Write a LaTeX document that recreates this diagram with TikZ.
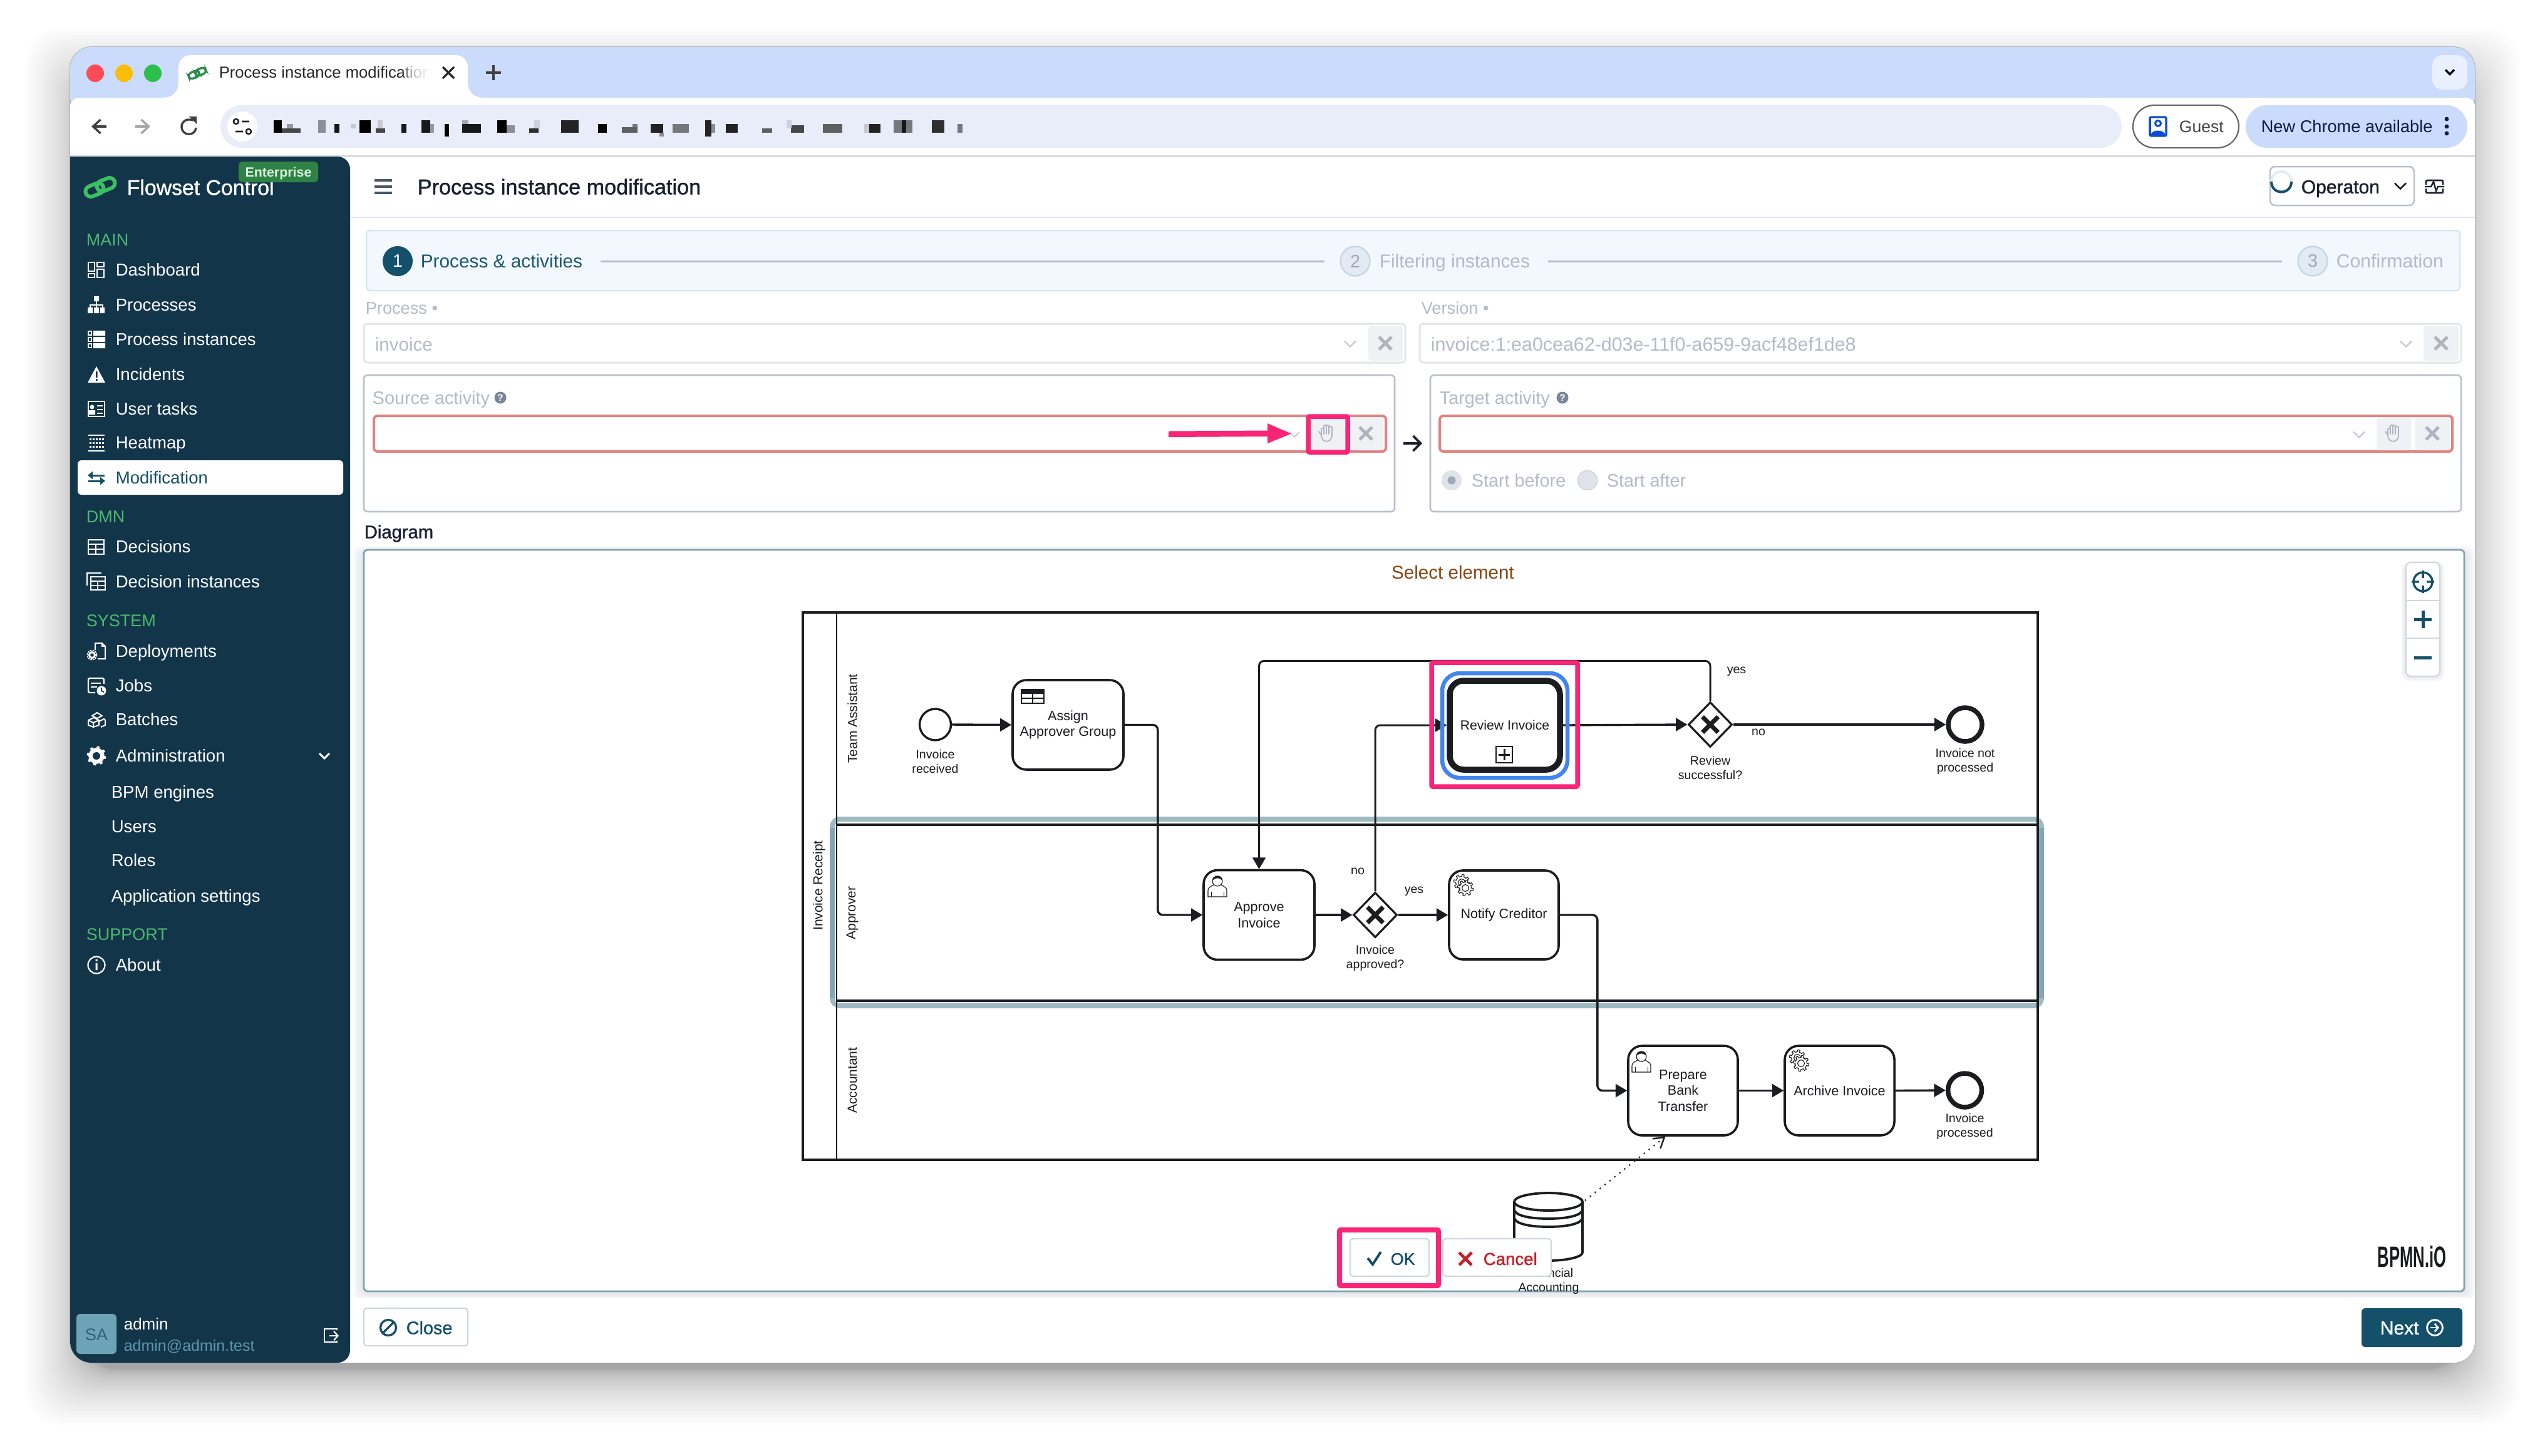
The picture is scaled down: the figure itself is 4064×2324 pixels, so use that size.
\documentclass[tikz,border=0pt]{standalone}
\usepackage{fontspec}
\usepackage{graphicx}
\setmainfont{Liberation Sans}
\newfontfamily\medf[FakeBold=1.2]{Liberation Sans}
\usetikzlibrary{arrows.meta,shapes.geometric,calc}
\def\pxu{0.25pt}
\definecolor{chromeb}{HTML}{CBDBFB}
\definecolor{addr}{HTML}{E9EDFA}
\definecolor{side}{HTML}{12354A}
\definecolor{sgreen}{HTML}{4CB96B}
\definecolor{teal1}{HTML}{14506A}
\definecolor{ink}{HTML}{1B1C20}
\definecolor{hotpink}{HTML}{FA2577}
\definecolor{selblue}{HTML}{4285F0}
\definecolor{lanehl}{HTML}{9DB9C2}
\definecolor{mutedt}{HTML}{B4BAC6}
\definecolor{btn}{HTML}{F0F1F5}
\definecolor{xgray}{HTML}{AEB4BF}
\definecolor{errred}{HTML}{E08280}
\definecolor{boxb}{HTML}{B9BFCE}
\definecolor{selb}{HTML}{E3E6EB}
\definecolor{darkt}{HTML}{1A2030}
\definecolor{cFF4B55}{HTML}{FF4B55}
\definecolor{cFABE0A}{HTML}{FABE0A}
\definecolor{c2DBF4B}{HTML}{2DBF4B}
\definecolor{c2D8C4A}{HTML}{2D8C4A}
\definecolor{cE9EFFC}{HTML}{E9EFFC}
\definecolor{c666666}{HTML}{666666}
\definecolor{c0B4CD6}{HTML}{0B4CD6}
\definecolor{c0E1A45}{HTML}{0E1A45}
\definecolor{cE2E8F0}{HTML}{E2E8F0}
\definecolor{c4A5568}{HTML}{4A5568}
\definecolor{cE4ECF0}{HTML}{E4ECF0}
\definecolor{c3CBF63}{HTML}{3CBF63}
\definecolor{c2F8246}{HTML}{2F8246}
\definecolor{cD8F3DC}{HTML}{D8F3DC}
\definecolor{c6CA3B6}{HTML}{6CA3B6}
\definecolor{c2D6079}{HTML}{2D6079}
\definecolor{c5F96A8}{HTML}{5F96A8}
\definecolor{cD8E6F2}{HTML}{D8E6F2}
\definecolor{cF3F8FF}{HTML}{F3F8FF}
\definecolor{c1B5871}{HTML}{1B5871}
\definecolor{cC6D6E4}{HTML}{C6D6E4}
\definecolor{cE2EBF4}{HTML}{E2EBF4}
\definecolor{cAEBBCB}{HTML}{AEBBCB}
\definecolor{c7A8698}{HTML}{7A8698}
\definecolor{cE0E4EA}{HTML}{E0E4EA}
\definecolor{cA0A9B8}{HTML}{A0A9B8}
\definecolor{cD0D4DA}{HTML}{D0D4DA}
\definecolor{c64748B}{HTML}{64748B}
\definecolor{c7CA3B3}{HTML}{7CA3B3}
\definecolor{c8A4510}{HTML}{8A4510}
\definecolor{cD1D7DF}{HTML}{D1D7DF}
\definecolor{c82A6B2}{HTML}{82A6B2}
\definecolor{cC81E28}{HTML}{C81E28}
\tikzset{
  x=0.25pt,y=-0.25pt,
  txt/.style={font=\fontsize{#1}{#1}\selectfont,text height=.82*#1pt,text depth=.1*#1pt,inner sep=0pt,anchor=west},
  ctxt/.style={font=\fontsize{#1}{#1}\selectfont,text height=.82*#1pt,text depth=.1*#1pt,inner sep=0pt,anchor=center},
  blbl/.style={font=\fontsize{4.9}{5.75}\selectfont,align=center,inner sep=0pt,text=ink},
  lane/.style={font=\fontsize{5.25}{6}\selectfont,rotate=90,inner sep=0pt,text=ink},
  task/.style 2 args={draw=ink,fill=white,line width=3.6*\pxu,rounded corners=5.5pt,minimum width=#1*\pxu,minimum height=#2*\pxu,inner sep=0pt,align=center,font=\fontsize{5.4}{6.4}\selectfont,text=ink},
  gate/.style={diamond,draw=ink,fill=white,line width=3.2*\pxu,minimum width=70*\pxu,minimum height=72*\pxu,inner sep=0pt,aspect=1},
  startev/.style={circle,draw=ink,fill=white,line width=3.4*\pxu,minimum size=50*\pxu,inner sep=0pt},
  endev/.style={circle,draw=ink,fill=white,line width=7.5*\pxu,minimum size=54*\pxu,inner sep=0pt},
  flow/.style={draw=ink,line width=3.4*\pxu,rounded corners=2pt,-{Triangle[length=4.6pt,width=5.2pt]}},
}
\newcommand\xmk[5]{\draw[#4,line width=#5*\pxu,line cap=butt] (#1-#3,#2-#3) -- (#1+#3,#2+#3) (#1+#3,#2-#3) -- (#1-#3,#2+#3);}
\newcommand\chev[5]{\draw[#4,line width=#5*\pxu,line join=miter] (#1-#3,#2-#3/2) -- (#1,#2+#3/2) -- (#1+#3,#2-#3/2);}
\newcommand\handicon[2]{%
  \draw[xgray,line width=1.8*\pxu,line cap=round,line join=round]
    (#1-9,#2+3) -- (#1-13,#2-3) (#1-9,#2+3) -- (#1-9,#2-6) (#1-9,#2-6) .. controls (#1-9,#2-9) and (#1-5,#2-9) .. (#1-5,#2-6)
    (#1-5,#2+1) -- (#1-5,#2-11) .. controls (#1-5,#2-14) and (#1-1,#2-14) .. (#1-1,#2-11) -- (#1-1,#2+1)
    (#1-1,#2-11) .. controls (#1-1,#2-14) and (#1+3,#2-14) .. (#1+3,#2-11) -- (#1+3,#2+1)
    (#1+3,#2-9) .. controls (#1+3,#2-12) and (#1+8,#2-12) .. (#1+8,#2-9) -- (#1+8,#2+3)
    .. controls (#1+8,#2+16) and (#1-9,#2+16) .. (#1-9,#2+3);}
\newcommand\logo[4]{%
  \begin{scope}[shift={(#1,#2)},scale=#3,rotate=22]
    \draw[#4,line width=#3*1.5pt,rounded corners=#3*2.2pt] (-25,-8) rectangle (5,9);
    \draw[#4,line width=#3*1.5pt,rounded corners=#3*2.2pt] (-5,-9) rectangle (25,8);
  \end{scope}}
\newcommand\gearout[4]{\draw[ink,line width=1.1*\pxu,fill=#4] plot[domain=0:360,samples=97,variable=\t]
   ({#1+#3*(1+((sin(8*\t)>0)*0.3-0.15))*cos(\t)},{#2+#3*(1+((sin(8*\t)>0)*0.3-0.15))*sin(\t)}) -- cycle;
   \draw[ink,line width=1.1*\pxu,fill=white] (#1,#2) circle[radius=#3*.5];}
\newcommand\gearicon[2]{\gearout{#1-3}{#2-4}{11}{white}\gearout{#1+3}{#2+5}{11}{white}}
\newcommand\usericon[2]{%
  \draw[ink,line width=1.1*\pxu,fill=white] (#1-15,#2+35) -- (#1-15,#2+25) .. controls (#1-15,#2+18) and (#1-6,#2+18) .. (#1-5,#2+14) -- (#1+5,#2+14) .. controls (#1+6,#2+18) and (#1+15,#2+18) .. (#1+15,#2+25) -- (#1+15,#2+35) -- cycle;
  \draw[ink,line width=1.1*\pxu,fill=white] (#1,#2+10) circle[radius=8];
  \fill[ink] (#1-8,#2+9) .. controls (#1-8,#2-1) and (#1+8,#2-1) .. (#1+8,#2+9) .. controls (#1+3,#2+4) and (#1-3,#2+4) .. (#1-8,#2+9) -- cycle;
  \draw[ink,line width=1*\pxu] (#1-10,#2+35) -- (#1-10,#2+27) (#1+10,#2+35) -- (#1+10,#2+27);}
\begin{document}
\begin{tikzpicture}
\useasboundingbox (0,0) rectangle (4064,2324);
\fill[white] (0,0) rectangle (4064,2324);
% window shadow
\foreach \i in {1,...,30}{
  \fill[black,opacity=.012,rounded corners=14pt] ({132-\i*\i/10},{135-\i*\i/10}) rectangle ({3932+\i*\i/10},{2186+\i*\i/10});
}
% window
\draw[black!40,line width=1.2*\pxu,fill=chromeb,rounded corners=8.5pt] (112,75) rectangle (3952,2176);
\begin{scope}
\clip[rounded corners=8.5pt] (112,75) rectangle (3952,2176);
\fill[chromeb] (112,75) rectangle (3952,160);
\fill[white,rounded corners=3.5pt] (112,156) rectangle (3952,400);
\fill[white] (112,250) rectangle (3952,2176);
\fill[white] (259,156) .. controls (275,156) and (285,148) .. (285,130) -- (285,108) .. controls (285,96) and (293,88) .. (305,88) -- (727,88) .. controls (739,88) and (747,96) .. (747,108) -- (747,130) .. controls (747,148) and (757,156) .. (773,156) -- cycle;
\draw[black!14,line width=3*\pxu] (112,249) -- (3952,249);
\fill[side,rounded corners=5pt] (90,250) rectangle (559,2176);
\end{scope}
% traffic lights
\fill[cFF4B55] (152,117) circle[radius=14];
\fill[cFABE0A] (198,117) circle[radius=14];
\fill[c2DBF4B] (244,117) circle[radius=14];
% tab
\logo{315}{117}{.58}{c2D8C4A}
\node[txt=6.4,text=black!85] (tabtitle) at (349,115) {Process instance modification};
\fill[white] (684,90) rectangle (700,140);
\foreach \i in {0,...,9}{\fill[white,opacity=.22] ({644+\i*4},95) rectangle (684,140);}
\xmk{716}{116}{9}{black!85}{3.2}
\draw[black!75,line width=3.2*\pxu] (788,104) -- (788,128) (776,116) -- (800,116);
\fill[cE9EFFC,rounded corners=4pt] (3884,88) rectangle (3940,143);
\chev{3912}{115}{7}{black}{3.4}
% toolbar
\draw[black!75,line width=3.4*\pxu,-{Straight Barb[length=3pt,width=5.5pt]}] (170,202) -- (146,202);
\draw[black!35,line width=3.4*\pxu,-{Straight Barb[length=3pt,width=5.5pt]}] (216,202) -- (240,202);
\draw[black!75,line width=3.4*\pxu] (308,192) .. controls (296,188) and (290,196) .. (290,202) .. controls (290,218) and (312,218) .. (313,204);
\fill[black!75] (302,186) -- (314,186) -- (314,198) -- cycle;
\fill[addr,rounded corners=34*\pxu] (352,168) rectangle (3388,236);
\fill[white] (387,202) circle[radius=24];
\draw[black!85,line width=2.6*\pxu] (377,194) circle[radius=4] (386,194) -- (398,194) (376,210) -- (388,210) (397,210) circle[radius=4];
\foreach \xa/\xb/\ya/\yb/\g in {437/450/192/212/100,450/480/205/212/70,458/468/198/205/35,508/520/192/212/40,534/542/198/212/90,560/568/198/205/15,574/592/192/212/100,600/615/205/212/70,603/611/192/205/15,641/649/198/212/90,673/687/192/212/90,687/693/198/212/35,710/717/198/218/100,738/768/198/212/90,738/748/192/198/30,794/809/192/212/100,809/822/200/212/40,845/860/205/212/80,853/862/192/205/12,896/924/192/212/85,955/969/198/212/100,993/1018/203/212/60,1010/1018/198/203/50,1039/1059/198/212/85,1053/1060/212/218/40,1074/1100/198/212/50,1126/1136/192/218/85,1136/1142/198/212/40,1159/1178/198/212/85,1217/1233/205/212/60,1263/1284/200/212/70,1256/1264/192/205/12,1314/1345/198/212/60,1388/1406/198/212/85,1380/1388/198/212/15,1427/1457/192/212/50,1440/1447/192/212/90,1488/1508/192/212/80,1529/1537/198/212/50}{
  \fill[black!\g!addr] (\xa,\ya) rectangle (\xb,\yb);
}
\draw[c666666,line width=2.2*\pxu,fill=white,rounded corners=34*\pxu] (3406,168) rectangle (3575,236);
\draw[c0B4CD6,line width=3.4*\pxu,rounded corners=.6pt] (3433,187) rectangle (3459,217);
\draw[c0B4CD6,line width=3*\pxu] (3446,197) circle[radius=4.5];
\fill[c0B4CD6] (3434,216) .. controls (3436,206) and (3456,206) .. (3458,216) -- cycle;
\node[txt=6.65,text=black!72] (guest) at (3479,202) {Guest};
\fill[chromeb,rounded corners=34*\pxu] (3586,168) rectangle (3940,236);
\node[txt=6.8,text=c0E1A45] (newchrome) at (3610,202) {New Chrome available};
\foreach \y in {190,202,213}{\fill[c0E1A45] (3907,\y) circle[radius=3.4];}
% header
\draw[cE2E8F0,line width=2.5*\pxu] (559,347) -- (3952,347);
\draw[c4A5568,line width=3.4*\pxu] (598,288) -- (626,288) (598,298) -- (626,298) (598,308) -- (626,308);
\node[txt=8.55,text=darkt] (pagetitle) at (666,298) {\medf Process instance modification};
\draw[boxb,line width=2.5*\pxu,rounded corners=2pt] (3625,266) rectangle (3855,328);
\draw[cE4ECF0,line width=4*\pxu] (3643,290) circle[radius=16];
\draw[teal1,line width=4*\pxu] (3627,290) .. controls (3627,312) and (3659,312) .. (3659,290);
\node[txt=7.5,text=darkt] (operaton) at (3674,298) {\medf Operaton};
\chev{3833}{297}{9}{darkt}{2.6}
\draw[darkt,line width=2.8*\pxu,rounded corners=.5pt] (3874,288) rectangle (3901,308);
\fill[white] (3870,295) rectangle (3905,301);
\draw[darkt,line width=2.4*\pxu] (3872,298) -- (3882,298) -- (3886,290) -- (3890,305) -- (3893,298) -- (3903,298);
% sidebar top
\logo{160}{299}{1}{c3CBF63}
\node[txt=8.45,text=white] (brand) at (202,299) {\medf Flowset Control};
\fill[c2F8246,rounded corners=1.6pt] (381,258) rectangle (508,291);
\node[ctxt=5.35,text=cD8F3DC] (enterprise) at (444.5,275) {\bfseries Enterprise};
% sidebar sections
\foreach \nm/\y/\t in {smain/383/MAIN,sdmn/825/DMN,ssystem/991/SYSTEM,ssupport/1492/SUPPORT}{
  \node[txt=6.75,text=sgreen] (\nm) at (137,\y) {\t};
}
\fill[white,rounded corners=1.5pt] (124,735) rectangle (548,790);
\foreach \nm/\y/\t in {idash/431/Dashboard,iproc/487/Processes,iinst/542/Process instances,iinc/598/Incidents,iuser/653/User tasks,iheat/707/Heatmap,idec/873/Decisions,idecin/929/Decision instances,idep/1040/Deployments,ijobs/1095/Jobs,ibatch/1149/Batches,iadmin/1207/Administration,iabout/1541/About}{
  \node[txt=6.9,text=white] (\nm) at (184,\y) {\t};
}
\node[txt=6.9,text=teal1] (imod) at (184,763) {Modification};
\foreach \nm/\y/\t in {ibpm/1265/BPM engines,iusers/1320/Users,iroles/1374/Roles,iapp/1431/Application settings}{
  \node[txt=6.9,text=white] (\nm) at (177,\y) {\t};
}
\chev{518}{1207}{8}{white}{3}
% sidebar icons
\draw[white,line width=2.2*\pxu] (141,419) rectangle (151,433) (155,419) rectangle (166,426) (141,437) rectangle (151,443) (155,430) rectangle (166,443);
\fill[white] (150,473) rectangle (158,481) (140,491) rectangle (148,500) (150,491) rectangle (158,500) (160,491) rectangle (167,500);
\draw[white,line width=2*\pxu] (154,481) -- (154,491) (144,491) -- (144,487) -- (164,487) -- (164,491);
\draw[white,line width=1.8*\pxu] (141,529) rectangle (146,535) (141,539) rectangle (146,545) (141,549) rectangle (146,555);
\fill[white] (149,528) rectangle (168,536) (149,538) rectangle (168,546) (149,548) rectangle (168,556);
\fill[white] (154,585) -- (168,611) -- (140,611) -- cycle;
\fill[side] (153,593) rectangle (155.5,603) (153,605) rectangle (155.5,608);
\draw[white,line width=2.2*\pxu] (141,641) rectangle (167,665);
\fill[white] (147,650) circle[radius=3.5] (142,662) rectangle (152,655);
\draw[white,line width=2*\pxu] (155,648) -- (164,648) (155,654) -- (164,654) (155,660) -- (164,660);
\draw[white,line width=2*\pxu] (141,695) -- (167,695) (141,720) -- (167,720);
\foreach \yy in {700,706,712}{\foreach \xx in {143,148,153,158,163}{\fill[white] (\xx,\yy) rectangle (\xx+2.5,\yy+3);}}
\draw[teal1,line width=3*\pxu,-{Triangle[length=2pt,width=3pt]}] (167,759) -- (140,759);
\draw[teal1,line width=3*\pxu,-{Triangle[length=2pt,width=3pt]}] (141,768) -- (168,768);
\draw[white,line width=2.4*\pxu] (141,862) rectangle (166,885) (141,869) -- (166,869) (141,877) -- (166,877) (153,869) -- (153,885);
\draw[white,line width=2.2*\pxu] (139,935) -- (139,915) -- (162,915) (145,921) rectangle (168,942) (145,928) -- (168,928) (145,935) -- (168,935) (156,928) -- (156,942);
\draw[white,line width=2*\pxu] (152,1038) -- (152,1027) -- (163,1027) -- (168,1032) -- (168,1052) -- (156,1052);
\draw[white,line width=2*\pxu] (163,1027) -- (163,1032) -- (168,1032);
\draw[white,line width=3*\pxu] (147,1046) circle[radius=4.5];
\draw[white,line width=2*\pxu,dash pattern=on .6pt off .4pt] (147,1046) circle[radius=7.5];
\draw[white,line width=2.4*\pxu,rounded corners=.6pt] (152,1106) -- (141,1106) -- (141,1083) -- (166,1083) -- (166,1092);
\draw[white,line width=2*\pxu] (145,1091) -- (161,1091) (145,1097) -- (155,1097);
\fill[white] (162,1103) circle[radius=7.5];
\draw[side,line width=1.8*\pxu] (162,1098) -- (162,1103) -- (166,1105);
\draw[white,line width=2*\pxu,line join=round] (141,1150) -- (150,1146) -- (158,1150) -- (158,1158) -- (149,1161) -- (141,1158) -- cycle (141,1150) -- (149,1154) -- (158,1150) (149,1154) -- (149,1161);
\draw[white,line width=2*\pxu,line join=round] (147,1143) -- (155,1138) -- (163,1143) -- (155,1147) -- cycle;
\draw[white,line width=2*\pxu,line join=round] (158,1152) -- (166,1148) -- (168,1150) -- (168,1158) -- (161,1161);
\fill[white] plot[domain=0:360,samples=97,variable=\t] ({154+14*(1+((sin(8*\t)>0)*0.2-0.1))*cos(\t)},{1207+14*(1+((sin(8*\t)>0)*0.2-0.1))*sin(\t)}) -- cycle;
\fill[side] (154,1207) circle[radius=6];
\draw[white,line width=2.2*\pxu] (154,1541) circle[radius=13.5];
\fill[white] (152.5,1538) rectangle (155.5,1549) (152.5,1532) rectangle (155.5,1535);
% admin
\fill[c6CA3B6,rounded corners=1.6pt] (122,2098) rectangle (186,2162);
\node[ctxt=6.7,text=c2D6079] (sa) at (154,2131) {SA};
\node[txt=6.5,text=white] (adminname) at (197,2114) {admin};
\node[txt=6.25,text=c5F96A8] (adminmail) at (197,2148) {admin@admin.test};
\draw[white,line width=2.2*\pxu] (538,2124) -- (538,2122) -- (518,2122) -- (518,2143) -- (538,2143) -- (538,2141);
\draw[white,line width=2.2*\pxu,-{Straight Barb[length=1.6pt,width=3.6pt]}] (526,2133) -- (541,2133);
% stepper
\draw[cD8E6F2,line width=2.5*\pxu,fill=cF3F8FF,rounded corners=1.5pt] (585,368) rectangle (3928,464);
\node[circle,fill=teal1,minimum size=48*\pxu,inner sep=0pt,text=white,font=\fontsize{7.2}{7.2}\selectfont] (st1) at (635,417) {1};
\node[txt=7.45,text=c1B5871] (st1t) at (671,417) {Process \& activities};
\node[circle,draw=cC6D6E4,fill=cE2EBF4,line width=2.4*\pxu,minimum size=47*\pxu,inner sep=0pt,text=mutedt!90!black,font=\fontsize{7.2}{7.2}\selectfont] (st2) at (2164,417) {2};
\node[txt=7.45,text=mutedt] (st2t) at (2202,417) {Filtering instances};
\node[circle,draw=cC6D6E4,fill=cE2EBF4,line width=2.4*\pxu,minimum size=47*\pxu,inner sep=0pt,text=mutedt!90!black,font=\fontsize{7.2}{7.2}\selectfont] (st3) at (3693,417) {3};
\node[txt=7.55,text=mutedt] (st3t) at (3730,417) {Confirmation};
\draw[cAEBBCB,line width=3*\pxu] ([xshift=7pt]st1t.east) -- ([xshift=-6pt]st2.west);
\draw[cAEBBCB,line width=3*\pxu] ([xshift=7pt]st2t.east) -- ([xshift=-6pt]st3.west);
% selects
\node[txt=6.8,text=mutedt] (lproc) at (583,492) {Process •};
\node[txt=6.8,text=mutedt] (lver) at (2269,492) {Version •};
\draw[selb,line width=3*\pxu,rounded corners=1.5pt] (581,517) rectangle (2244,579);
\node[txt=7.4,text=mutedt] (vproc) at (598,550) {invoice};
\chev{2156}{549}{9}{xgray!70}{2.4}
\fill[btn,rounded corners=1.2pt] (2185,520) rectangle (2240,576);
\xmk{2212}{548}{10}{xgray}{5}
\draw[selb,line width=3*\pxu,rounded corners=1.5pt] (2267,517) rectangle (3930,579);
\node[txt=7.6,text=mutedt] (vver) at (2284,550) {invoice:1:ea0cea62-d03e-11f0-a659-9acf48ef1de8};
\chev{3842}{549}{9}{xgray!70}{2.4}
\fill[btn,rounded corners=1.2pt] (3870,520) rectangle (3926,576);
\xmk{3898}{548}{10}{xgray}{5}
% source
\draw[boxb,line width=2.6*\pxu,rounded corners=1.5pt] (581,599) rectangle (2227,817);
\node[txt=7.2,text=mutedt] (lsrc) at (594,635) {Source activity};
\node[circle,fill=c7A8698,minimum size=19*\pxu,inner sep=0pt,text=white,font=\fontsize{3.8}{3.8}\selectfont\bfseries] (qsrc) at (799,635) {?};
\draw[errred,line width=4*\pxu,rounded corners=1.5pt] (597,664) rectangle (2213,721);
\fill[btn,rounded corners=1.2pt] (2156,666) rectangle (2209,719);
\xmk{2181}{692}{10}{xgray}{5}
\fill[btn] (2088,664) rectangle (2153,722);
\handicon{2119}{692}
\chev{2067}{694}{8}{xgray!60}{2.2}
\draw[hotpink,line width=7.5*\pxu,rounded corners=.5pt] (2089,665) rectangle (2152,722);
\fill[hotpink] (1866,688.5) -- (2024,687.5) -- (2024,676) -- (2062,692.5) -- (2024,708) -- (2024,697) -- (1866,698) -- cycle;
\draw[darkt,line width=3.6*\pxu,-{Straight Barb[length=3pt,width=6pt]}] (2241,708) -- (2271,708);
% target
\draw[boxb,line width=2.6*\pxu,rounded corners=1.5pt] (2284,599) rectangle (3930,817);
\node[txt=7.2,text=mutedt] (ltgt) at (2298,635) {Target activity};
\node[circle,fill=c7A8698,minimum size=19*\pxu,inner sep=0pt,text=white,font=\fontsize{3.8}{3.8}\selectfont\bfseries] (qtgt) at (2495,635) {?};
\draw[errred,line width=4*\pxu,rounded corners=1.5pt] (2299,664) rectangle (3916,721);
\fill[btn,rounded corners=1.2pt] (3795,666) rectangle (3850,719);
\fill[btn,rounded corners=1.2pt] (3857,666) rectangle (3912,719);
\handicon{3822}{692}
\xmk{3884}{692}{10}{xgray}{5}
\chev{3767}{694}{9}{xgray!70}{2.4}
\node[circle,fill=cE0E4EA,minimum size=32*\pxu,inner sep=0pt] (rb) at (2318,767) {};
\fill[cA0A9B8] (rb) circle[radius=6.5];
\node[txt=7.2,text=mutedt] (lstartb) at (2349,767) {Start before};
\node[circle,fill=cE0E4EA,draw=cD0D4DA,line width=1.5*\pxu,minimum size=31*\pxu,inner sep=0pt] (ra) at (2535,767) {};
\node[txt=7.2,text=mutedt] (lstarta) at (2565,767) {Start after};
\node[txt=7.3,text=darkt] (ldiag) at (581,849) {\medf Diagram};
% diagram box
\begin{scope}
\clip (560,855) rectangle (3952,2071);
\foreach \i in {1,...,7}{
  \fill[c64748B,opacity=.022,rounded corners=3pt] ({581-2.5*\i},{878-1.5*\i+4}) rectangle ({3935+2.5*\i},{2062+2.5*\i});
}
\end{scope}
\draw[c7CA3B3,line width=2.8*\pxu,fill=white,rounded corners=1.5pt] (581,878) rectangle (3935,2062);
\node[ctxt=7.4,text=c8A4510] (selel) at (2320,914) {Select element};
% zoom controls
\begin{scope}
\foreach \i in {1,...,5}{\fill[c64748B,opacity=.03,rounded corners=3pt] ({3842-1.5*\i},{898-\i+3}) rectangle ({3896+1.5*\i},{1080+1.6*\i});}
\end{scope}
\draw[cD1D7DF,line width=2.2*\pxu,fill=white,rounded corners=2pt] (3842,898) rectangle (3896,1080);
\draw[cD1D7DF,line width=2*\pxu] (3842,959) -- (3896,959) (3842,1019) -- (3896,1019);
\draw[teal1,line width=3.4*\pxu] (3869,929) circle[radius=15] (3869,911) -- (3869,923) (3869,935) -- (3869,947) (3851,929) -- (3863,929) (3875,929) -- (3887,929);
\draw[teal1,line width=5*\pxu] (3869,975) -- (3869,1003) (3855,989) -- (3883,989) (3855,1050) -- (3883,1050);
% lane highlight
\draw[lanehl,line width=8*\pxu,rounded corners=3pt] (1329,1308) rectangle (3260,1606);
\draw[c82A6B2,line width=8*\pxu] (1329,1322) -- (1329,1594);
\draw[c82A6B2,line width=8*\pxu] (3260,1322) -- (3260,1594);
% pool
\draw[ink,line width=3.2*\pxu] (1282,978) rectangle (3254,1852);
\draw[ink,line width=2.8*\pxu] (1336,978) -- (1336,1852);
\draw[ink,line width=4*\pxu] (1336,1317) -- (3254,1317) (1336,1598) -- (3254,1598);
\node[lane] (lpool) at (1308,1414) {Invoice Receipt};
\node[lane] (l1) at (1361,1147.5) {Team Assistant};
\node[lane] (l2) at (1361,1458) {Approver};
\node[lane] (l3) at (1361,1725) {Accountant};
% data store
\coordinate (storeport) at (2531,1917);
\draw[ink,line width=3.8*\pxu,fill=white] (2418,1919) -- (2418,2000) .. controls (2418,2007) and (2442,2013) .. (2472.5,2013) .. controls (2503,2013) and (2527,2007) .. (2527,2000) -- (2527,1919);
\node[ellipse,draw=ink,line width=3.8*\pxu,minimum width=109*\pxu,minimum height=28*\pxu,inner sep=0pt,fill=white] (store) at (2472.5,1919) {};
\draw[ink,line width=3.8*\pxu] (2418,1932) .. controls (2420,1941) and (2442,1946) .. (2472.5,1946) .. controls (2503,1946) and (2525,1941) .. (2527,1932);
\draw[ink,line width=3.8*\pxu] (2418,1945) .. controls (2420,1954) and (2442,1959) .. (2472.5,1959) .. controls (2503,1959) and (2525,1954) .. (2527,1945);
\node[blbl] (lstore) at (2473,2046) {Financial\\Accounting};
% tasks
\node[startev] (start) at (1493.5,1157) {};
\node[blbl] (lstart) at (1493.5,1215.5) {Invoice\\received};
\node[task={177}{143}] (assign) at (1705.5,1157.5) {Assign\\Approver Group};
\node[task={177}{143}] (approve) at (2010.5,1461) {Approve\\Invoice};
\node[gate] (g1) at (2196,1461) {};
\node[blbl] (lg1) at (2196,1530) {Invoice\\approved?};
\node[blbl] (no1) at (2168,1391) {no};
\node[blbl] (yes1) at (2258,1423) {yes};
\node[task={175}{142}] (notify) at (2401.5,1461) {Notify Creditor};
\node[task={176}{142},draw=ink,line width=9.5*\pxu] (review) at (2403,1158) {};
\node[font=\fontsize{5.3}{6}\selectfont,text=ink,inner sep=0pt] (lreview) at (review) {Review Invoice};
\node[gate] (g2) at (2731,1157) {};
\node[blbl] (lg2) at (2731,1226) {Review\\successful?};
\node[blbl] (yes2) at (2773,1072.5) {yes};
\node[blbl] (no2) at (2808,1169) {no};
\node[endev] (endno) at (3138,1157) {};
\node[blbl] (lendno) at (3138,1215.5) {Invoice not\\processed};
\node[task={175}{143}] (prepare) at (2687.5,1741.5) {Prepare\\Bank\\Transfer};
\node[task={175}{143}] (archive) at (2937.5,1741.5) {Archive Invoice};
\node[endev] (endok) at (3137.5,1741) {};
\node[blbl] (lendok) at (3137.5,1799) {Invoice\\processed};
% gateway marks
\xmk{2196}{1461}{12.5}{ink}{7}
\xmk{2731}{1157}{12.5}{ink}{7}
% flows
\draw[flow] (start.east) -- (assign.west);
\draw[flow] (assign.east) -- ++(53,0) |- (approve.west);
\draw[flow] (approve.east) -- (g1.west);
\draw[flow] (g1.east) -- (notify.west);
\draw[flow,line width=3*\pxu] (g1.north) |- (review.west);
\draw[flow] (review.east) -- (g2.west);
\draw[flow] (g2.east) -- (endno.west);
\draw[flow,line width=3*\pxu] (g2.north) -- ++(0,-64) -| (approve.north);
\draw[flow] (notify.east) -- ++(60,0) |- (prepare.west);
\draw[flow] (prepare.east) -- (archive.west);
\draw[flow] (archive.east) -- (endok.west);
\draw[ink,line width=2.4*\pxu,dash pattern=on .5pt off 2pt,-{Straight Barb[length=4pt,width=5pt]}] (storeport) -- (prepare.249.7);
% task markers
\gearicon{2337}{1413}
\gearicon{2873}{1693}
\usericon{1944}{1397}
\usericon{2621}{1677}
\draw[ink,line width=1.4*\pxu,fill=white] (1631,1101) rectangle (1667,1123);
\fill[ink] (1631,1101) rectangle (1667,1108);
\draw[ink,line width=1.2*\pxu] (1631,1115) -- (1667,1115) (1649,1108) -- (1649,1123);
\draw[ink,line width=1.6*\pxu] (2389,1192) rectangle (2415,1218);
\draw[ink,line width=3*\pxu] (2402,1196) -- (2402,1214) (2393,1205) -- (2411,1205);
% selection outlines
\draw[selblue,line width=6.5*\pxu,rounded corners=7pt] (2303,1075) rectangle (2503,1242);
\draw[hotpink,line width=7.5*\pxu,rounded corners=.5pt] (2286,1058) rectangle (2519,1256);
% popup buttons
\draw[hotpink,line width=8*\pxu,rounded corners=.5pt] (2139,1964) rectangle (2297,2053);
\draw[cD1D7DF,line width=2.4*\pxu,fill=white,rounded corners=1.2pt] (2156,1978) rectangle (2282,2038);
\draw[teal1,line width=4*\pxu] (2184,2009) -- (2192,2019) -- (2205,1999);
\node[txt=6.7,text=teal1] (okt) at (2220,2010) {\medf OK};
\draw[cD1D7DF,line width=2.4*\pxu,fill=white,rounded corners=1.2pt] (2304,1978) rectangle (2477,2038);
\xmk{2340}{2010}{10}{cC81E28}{4.6}
\node[txt=6.9,text=cC81E28] (cancelt) at (2368,2010) {\medf Cancel};
% bpmn.io
\node[inner sep=0pt,text=ink] (bpmnio) at (3851.5,2007) {\resizebox{27.5pt}{8.5pt}{\bfseries BPMN.iO}};
% footer buttons
\draw[cD1D7DF,line width=2.4*\pxu,fill=white,rounded corners=1.2pt] (581,2089) rectangle (747,2149);
\draw[teal1,line width=3.4*\pxu] (620,2120) circle[radius=12.5] (611,2129) -- (629,2111);
\node[txt=7.2,text=teal1] (closet) at (648,2120) {\medf Close};
\fill[teal1,rounded corners=1.5pt] (3771,2089) rectangle (3932,2151);
\node[txt=7.5,text=white] (nextt) at (3800,2120) {\medf Next};
\draw[white,line width=2.8*\pxu] (3888,2120) circle[radius=12.5];
\draw[white,line width=2.6*\pxu,-{Straight Barb[length=1.4pt,width=3.2pt]}] (3881,2120) -- (3895,2120);
\end{tikzpicture}
\end{document}
